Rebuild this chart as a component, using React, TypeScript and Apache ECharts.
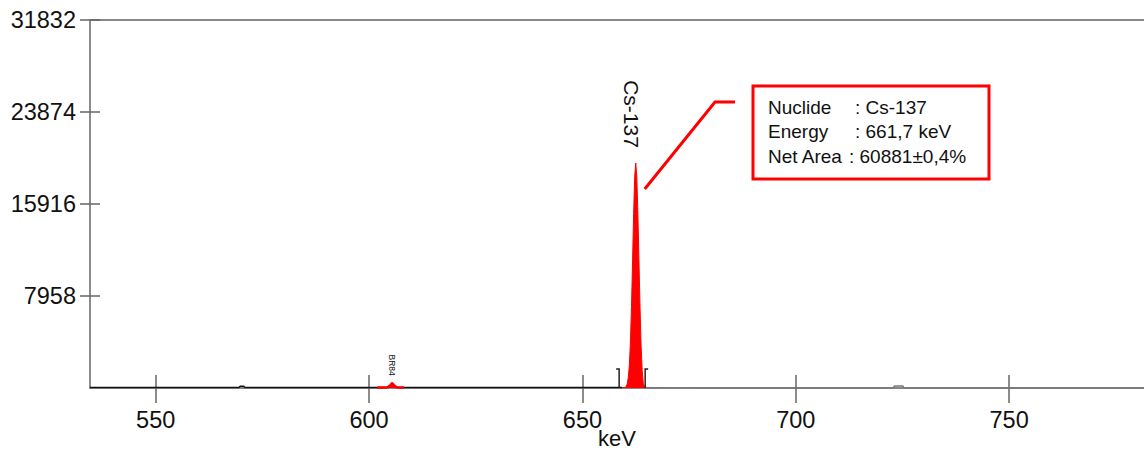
import React, { useEffect, useRef } from "react";
import * as echarts from "echarts";

// ---- data ----
const xTickValues = [550, 600, 650, 700, 750];
const yTickValues = [7958, 15916, 23874, 31832];
const xMin = 534.6;
const xMax = 781.6;
const yMax = 31832;

// spectrum: energy (keV) and counts
const spectrumEnergy = [
  534.6, 540, 550, 560, 569.5, 569.8, 570.6, 570.9, 580, 590, 600, 601.9, 603.5, 604.4, 605.0, 605.4, 605.8, 606.4, 607.3, 608.2,
  615, 625, 635, 645, 655, 659.3, 660.0, 660.25, 660.5, 660.75, 661.0, 661.25, 661.5, 661.75, 662.0, 662.25, 662.5, 662.75,
  663.0, 663.25, 663.5, 663.75, 664.0, 664.25, 664.5, 664.75, 666, 670, 680, 700, 722.9, 723.1, 725.1, 725.3, 740, 760, 781.6,
];
const spectrumCounts = [
  45, 44, 43, 42, 42, 160, 160, 42, 41, 40, 39, 38, 40, 70, 250, 420, 250, 70, 40, 38,
  38, 38, 37, 37, 38, 40, 45, 125, 360, 900, 2000, 3980, 7050, 11000, 15100, 18300, 19460, 18200,
  15000, 10900, 6950, 3600, 1500, 420, 90, 38, 20, 12, 10, 8, 8, 170, 170, 8, 6, 6, 5,
];

// regions of interest (keV)
const roiNames = ["BR84", "Cs-137"];
const roiStart = [601.9, 659.3];
const roiEnd = [608.2, 664.75];
const roiPeak = [605.4, 662.5];
const roiBracketStart = [null, 658.6];
const roiBracketEnd = [null, 664.7];

// info box
const infoLabels = ["Nuclide", "Energy", "Net Area"];
const infoValues = [": Cs-137", ": 661,7 keV", ": 60881\u00b10,4%"];

const FONT = "'Liberation Sans', Arial, sans-serif";

export default function App() {
  const ref = useRef<HTMLDivElement>(null);

  useEffect(() => {
    if (!ref.current) return;
    const chart = echarts.init(ref.current, null, { renderer: "svg" });

    const pairs = spectrumEnergy.map((e, i) => [e, spectrumCounts[i]]);
    const csIdx = 1;
    const leftPart = pairs.filter((p) => p[0] <= roiStart[csIdx]);
    const rightPart = pairs.filter((p) => p[0] >= roiEnd[csIdx]);
    const roiSeries = roiNames.map((name, k) => ({
      name,
      type: "line",
      data: pairs.filter((p) => p[0] >= roiStart[k] && p[0] <= roiEnd[k]),
      showSymbol: false,
      symbol: "none",
      lineStyle: { color: "#ff0000", width: k === 0 ? 2.5 : 1 },
      areaStyle: { color: "#ff0000", opacity: 1 },
      z: 5,
    }));

    chart.setOption({
      animation: false,
      backgroundColor: "#ffffff",
      grid: { left: 90, right: 0, top: 20, bottom: 62, containLabel: false, outerBoundsMode: "none" },
      xAxis: [
        {
          type: "value",
          position: "bottom",
          min: xMin,
          max: xMax,
          name: "keV",
          nameLocation: "middle",
          nameGap: 39,
          nameMoveOverlap: false,
          nameTextStyle: { fontSize: 22, lineHeight: 22, color: "#111", fontFamily: FONT, verticalAlign: "top" },
          axisLine: { show: true, lineStyle: { color: "#888", width: 2 } },
          axisTick: { show: true, length: 15, customValues: xTickValues, lineStyle: { color: "#666", width: 1.5 } },
          axisLabel: { customValues: xTickValues, fontSize: 23.5, color: "#111", fontFamily: FONT, margin: 20 },
          splitLine: { show: false },
        },
        {
          type: "value",
          position: "bottom",
          min: xMin,
          max: xMax,
          axisLine: { show: false },
          axisTick: { show: true, inside: true, length: 13, customValues: xTickValues, lineStyle: { color: "#666", width: 1.5 } },
          axisLabel: { show: false },
          splitLine: { show: false },
        },
        {
          type: "value",
          position: "top",
          min: xMin,
          max: xMax,
          axisLine: { show: true, lineStyle: { color: "#888", width: 2 } },
          axisTick: { show: false },
          axisLabel: { show: false },
          splitLine: { show: false },
        },
      ],
      yAxis: [
        {
          type: "value",
          position: "left",
          min: 0,
          max: yMax,
          interval: 7958,
          axisLine: { show: true, lineStyle: { color: "#666", width: 1.5 } },
          axisTick: { show: true, length: 10, customValues: yTickValues, lineStyle: { color: "#666", width: 1.5 } },
          axisLabel: {
            customValues: yTickValues,
            fontSize: 23.5,
            color: "#111",
            fontFamily: FONT,
            margin: 14,
            formatter: (v: number) => (v === 0 ? "" : String(v)),
          },
          splitLine: { show: false },
        },
        {
          type: "value",
          position: "left",
          min: 0,
          max: yMax,
          interval: 7958,
          axisLine: { show: false },
          axisTick: { show: true, inside: true, length: 10, customValues: yTickValues, lineStyle: { color: "#666", width: 1.5 } },
          axisLabel: { show: false },
          splitLine: { show: false },
        },
      ],
      series: [
        {
          name: "Spectrum (low)",
          type: "line",
          data: leftPart,
          showSymbol: false,
          symbol: "none",
          lineStyle: { color: "#111", width: 1.5 },
          z: 4,
        },
        {
          name: "Spectrum (high)",
          type: "line",
          data: rightPart,
          showSymbol: false,
          symbol: "none",
          lineStyle: { color: "#777", width: 1.5 },
          z: 4,
        },
        ...roiSeries,
      ],
    });

    const px = (e: number, c: number) => chart.convertToPixel({ xAxisIndex: 0, yAxisIndex: 0 }, [e, c]) as number[];
    const graphics: any[] = [];

    // peak labels
    roiNames.forEach((name, k) => {
      const idx = spectrumEnergy.indexOf(roiPeak[k]);
      const apex = px(roiPeak[k], spectrumCounts[idx]);
      const big = k === csIdx;
      graphics.push({
        type: "text",
        x: apex[0] - (big ? 4 : 0),
        y: apex[1] - (big ? 49 : 18),
        rotation: -Math.PI / 2,
        style: {
          text: name,
          fontSize: big ? 21 : 8.5,
          fontFamily: FONT,
          fill: "#111",
          align: "center",
          verticalAlign: "middle",
        },
        z: 10,
      });
      if (big) {
        graphics.push({
          type: "polyline",
          shape: { points: [[apex[0] + 9, apex[1] + 26], [715, 102], [735, 102]] },
          style: { stroke: "#ff0000", lineWidth: 3, fill: null },
          z: 10,
        });
      }
      // ROI brackets
      if (roiBracketStart[k] != null) {
        const b0 = px(roiBracketStart[k] as number, 0);
        const b1 = px(roiBracketEnd[k] as number, 0);
        graphics.push({
          type: "polyline",
          shape: { points: [[b0[0] - 3, b0[1] - 19], [b0[0], b0[1] - 19], [b0[0], b0[1]]] },
          style: { stroke: "#222", lineWidth: 1.5, fill: null },
          z: 10,
        });
        graphics.push({
          type: "polyline",
          shape: { points: [[b1[0] + 3, b1[1] - 19], [b1[0], b1[1] - 19], [b1[0], b1[1]]] },
          style: { stroke: "#222", lineWidth: 1.5, fill: null },
          z: 10,
        });
      }
    });

    // info box
    graphics.push({
      type: "rect",
      shape: { x: 753, y: 86, width: 236, height: 93 },
      style: { fill: "#fff", stroke: "#ff0000", lineWidth: 3 },
      z: 10,
    });
    const colonX = [855, 855, 849];
    infoLabels.forEach((lab, i) => {
      const cy = 107 + i * 24.5;
      graphics.push({
        type: "text",
        x: 768,
        y: cy,
        style: { text: lab, fontSize: 19, fontFamily: FONT, fill: "#111", verticalAlign: "middle" },
        z: 11,
      });
      graphics.push({
        type: "text",
        x: colonX[i],
        y: cy,
        style: { text: infoValues[i], fontSize: 19, fontFamily: FONT, fill: "#111", verticalAlign: "middle" },
        z: 11,
      });
    });

    chart.setOption({ graphic: graphics });

    return () => chart.dispose();
  }, []);

  return (
    <div
      ref={ref}
      style={{ position: "fixed", left: 0, top: 0, width: 1144, height: 450, background: "#fff" }}
    />
  );
}
